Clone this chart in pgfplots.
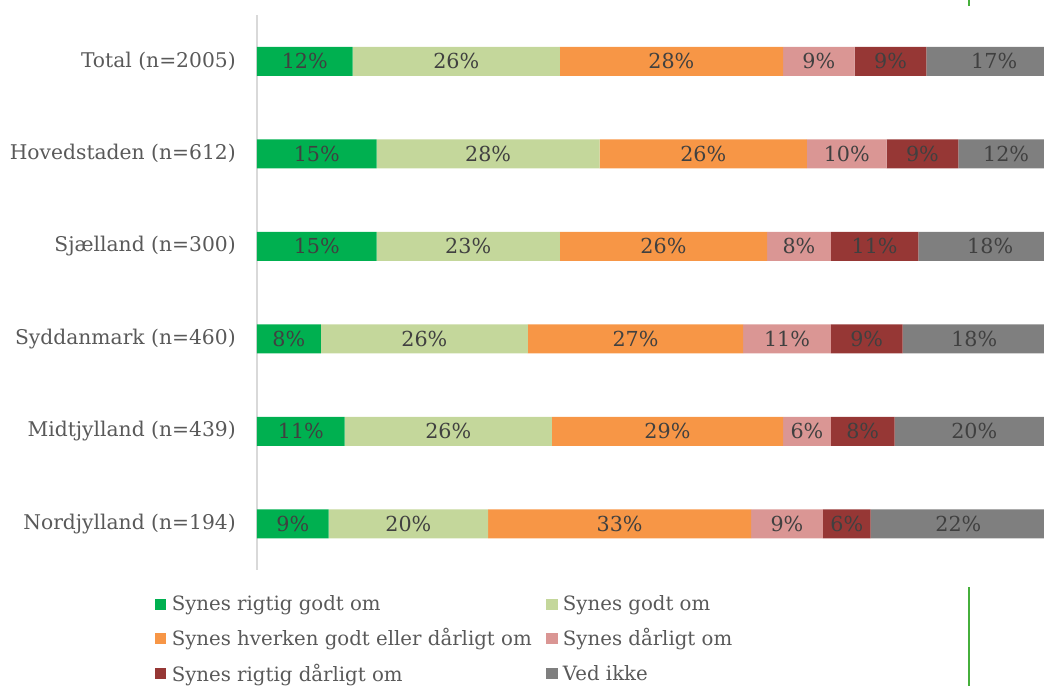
\documentclass[border=0pt]{standalone}
\usepackage{fontspec}
\setmainfont{DejaVu Serif}
\usepackage{pgfplots}
\pgfplotsset{compat=1.18}

\definecolor{cA}{RGB}{0,176,80}
\definecolor{cB}{RGB}{196,215,155}
\definecolor{cC}{RGB}{247,150,70}
\definecolor{cD}{RGB}{218,150,148}
\definecolor{cE}{RGB}{150,55,53}
\definecolor{cF}{RGB}{127,127,127}
\definecolor{labtxt}{RGB}{64,64,64}
\definecolor{cattxt}{RGB}{89,89,89}
\definecolor{axisgray}{RGB}{217,217,217}
\definecolor{slidegreen}{RGB}{70,175,60}

\begin{document}
\begin{tikzpicture}
% picture = 1044 x 686 px at 0.75pt per px; the source is cut off just before 100%
\useasboundingbox (-192.75pt,-87pt) rectangle (590.25pt,427.5pt);

\begin{axis}[
	at={(0,0)}, anchor=south west,
	scale only axis,
	width=603.7pt, height=416.25pt,
	xbar stacked,
	bar width=21.75pt,
	xmin=0, xmax=101,
	ymin=-0.5, ymax=5.5,
	y dir=reverse,
	axis x line=none,
	axis y line=left,
	y axis line style={draw=axisgray, line width=1pt, -},
	major tick length=0pt,
	ytick={0,1,2,3,4,5},
	yticklabels={Total (n=2005), Hovedstaden (n=612), Sjælland (n=300),
		Syddanmark (n=460), Midtjylland (n=439), Nordjylland (n=194)},
	yticklabel style={font=\fontsize{15.2pt}{17pt}\selectfont, text=cattxt,
		inner sep=0pt, xshift=-15.75pt},
	point meta=explicit,
	/pgf/number format/assume math mode=true,
	nodes near coords={\pgfmathprintnumber{\pgfplotspointmeta}\%},
	every node near coord/.append style={font=\fontsize{15.5pt}{17pt}\selectfont,
		text=labtxt},
	legend columns=2,
	legend cell align=left,
	legend style={at={(0,0)}, anchor=north west, xshift=-79.5pt, yshift=-15pt,
		draw=none, fill=none, text=cattxt,
		font=\fontsize{14.8pt}{17pt}\selectfont,
		row sep=8pt,
		/tikz/every odd column/.append style={column sep=2pt},
		/tikz/every even column/.append style={column sep=9pt}},
	legend image code/.code={\fill[#1] (0pt,-4.2pt) rectangle (8.4pt,4.2pt);},
]
\addplot[fill=cA, draw=none] coordinates {(12,0) [12] (15,1) [15] (15,2) [15] (8,3) [8] (11,4) [11] (9,5) [9]};
\addplot[fill=cB, draw=none] coordinates {(26,0) [26] (28,1) [28] (23,2) [23] (26,3) [26] (26,4) [26] (20,5) [20]};
\addplot[fill=cC, draw=none] coordinates {(28,0) [28] (26,1) [26] (26,2) [26] (27,3) [27] (29,4) [29] (33,5) [33]};
\addplot[fill=cD, draw=none] coordinates {(9,0) [9] (10,1) [10] (8,2) [8] (11,3) [11] (6,4) [6] (9,5) [9]};
\addplot[fill=cE, draw=none] coordinates {(9,0) [9] (9,1) [9] (11,2) [11] (9,3) [9] (8,4) [8] (6,5) [6]};
\addplot[fill=cF, draw=none] coordinates {(17,0) [17] (12,1) [12] (18,2) [18] (18,3) [18] (20,4) [20] (22,5) [22]};
\legend{Synes rigtig godt om, Synes godt om, Synes hverken godt eller dårligt om,
	Synes dårligt om, Synes rigtig dårligt om, Ved ikke}
\end{axis}

% slide edge marks seen in the source picture
\fill[slidegreen] (533pt,423pt) rectangle (535pt,427.5pt);
\fill[slidegreen] (533pt,-87pt) rectangle (535pt,-12.75pt);
\end{tikzpicture}
\end{document}
